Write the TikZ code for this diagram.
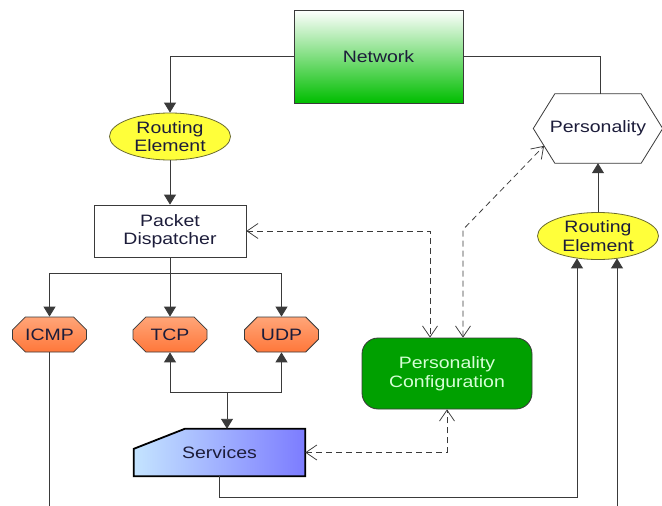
\documentclass[tikz,border=0pt]{standalone}
\usepackage{fontspec}
\setmainfont{Liberation Sans}[FakeStretch=1.18]
\usetikzlibrary{arrows.meta,shapes.geometric,shapes.misc,calc}
\definecolor{lin}{HTML}{3A3A3A}
\definecolor{txt}{HTML}{1C1C3A}
\definecolor{netgreen}{HTML}{00BE00}
\definecolor{yel}{HTML}{FFFF3A}
\definecolor{yelborder}{HTML}{6A6A30}
\definecolor{orangetop}{HTML}{FFA578}
\definecolor{orangebot}{HTML}{FF773A}
\definecolor{cfggreen}{HTML}{00A000}
\definecolor{cfgtext}{HTML}{D6FFD6}
\definecolor{svcleft}{HTML}{C4E4FF}
\definecolor{svcright}{HTML}{7C7CFF}
\begin{document}
\begin{tikzpicture}[x=1pt,y=-1pt,
  lbl/.style={font=\fontsize{16.5}{18.5}\selectfont, text=txt, align=center, inner sep=0pt},
  conn/.style={line width=0.9pt, draw=lin},
  arr/.style={conn, -{Triangle[length=10pt,width=12pt]}},
  darr/.style={line width=0.75pt, draw=lin, dash pattern=on 6pt off 4pt,
    {Straight Barb[length=11pt,width=15pt,line width=0.75pt]}-{Straight Barb[length=11pt,width=15pt,line width=0.75pt]}},
  routing/.style={ellipse, lbl, draw=yelborder, fill=yel, line width=0.8pt,
    minimum width=121pt, minimum height=47pt},
  proto/.style={chamfered rectangle, chamfered rectangle xsep=7pt, chamfered rectangle ysep=7pt,
    lbl, draw=lin, line width=0.8pt, top color=orangetop, bottom color=orangebot,
    minimum width=74pt, minimum height=35pt},
  plainbox/.style={rectangle, lbl, draw=lin, line width=0.8pt, fill=white},
  netbox/.style={rectangle, lbl, draw=lin, line width=0.8pt, top color=white, bottom color=netgreen,
    minimum width=169pt, minimum height=93pt},
  cfgbox/.style={rectangle, rounded corners=16pt, lbl, text=cfgtext, draw=lin, line width=0.8pt,
    fill=cfggreen, minimum width=170pt, minimum height=71pt},
  placeholder/.style={rectangle, lbl, draw=none}
]
\fill[white] (0,0) rectangle (662,506);
\useasboundingbox (0,0) rectangle (662,506);

% nodes
\node[netbox] (net) at (378.5,56.5) {Network};
\node[routing] (re1) at (170,136.5) {Routing\\Element};
\node[plainbox, minimum width=152pt, minimum height=52pt] (pd) at (170,231) {Packet\\Dispatcher};
\node[proto] (icmp) at (49.5,334.5) {ICMP};
\node[proto] (tcp) at (170,334.5) {TCP};
\node[proto] (udp) at (281.5,334.5) {UDP};
\node[cfgbox] (pc) at (447,373.5) {Personality\\Configuration};
\node[routing] (re2) at (598,236) {Routing\\Element};

% personality hexagon
\node[placeholder, minimum width=129pt, minimum height=69pt] (pers) at (598,128.5) {Personality};
\coordinate (persTL) at ($(pers.north west)+(21.5,0)$);
\coordinate (persTR) at ($(pers.north east)+(-21.5,0)$);
\coordinate (persBR) at ($(pers.south east)+(-21.5,0)$);
\coordinate (persBL) at ($(pers.south west)+(21.5,0)$);
\draw[draw=lin, line width=0.8pt] (pers.west) -- (persTL) -- (persTR) -- (pers.east) -- (persBR) -- (persBL) -- cycle;
\coordinate (persIn) at ($(pers.west)!0.5!(persBL)$);

% services shape
\node[placeholder, minimum width=171pt, minimum height=47pt] (serv) at (219.5,452.5) {};
\draw[draw=black, line width=1.8pt, left color=svcleft, right color=svcright]
  ($(serv.north west)+(51,0)$) -- (serv.north east) -- (serv.south east) -- (serv.south west)
  -- ($(serv.north west)+(0,20)$) -- cycle;
\node[lbl] at (serv.center) {Services};

% free ends
\coordinate (split) at (170,273);
\coordinate (join) at (227,392);
\coordinate (icmpEnd) at (49.5,506);
\coordinate (bend) at (577,497);
\coordinate (re2In) at (617,506);

% connectors
\draw[arr] (net.west) -| (re1.north);
\draw[arr] (re1.south) -- (pd.north);
\draw[conn] (pd.south) -- (split);
\draw[arr] (split) -| (icmp.north);
\draw[arr] (split) -- (tcp.north);
\draw[arr] (split) -| (udp.north);
\draw[arr] (join) -| (tcp.south);
\draw[arr] (join) -| (udp.south);
\draw[arr] (join) -- (join |- serv.north);
\draw[conn] (icmp.south) -- (icmpEnd);
\draw[arr, shorten >=-1.5pt] (serv.south) |- (bend) -- (bend |- re2.south);
\draw[arr, shorten >=-1.5pt] (re2In) -- (re2In |- re2.south);
\draw[arr] (re2.north) -- (pers.south);
\draw[conn] (net.east) -| ($(pers.north)+(2,0)$);

% dashed connectors
\draw[darr] (pd.east) -| ($(pc.north)+(-17,0)$);
\draw[darr] ($(pc.north)+(16,0)$) -- ++(0,-108) -- (persIn);
\draw[darr] (serv.east) -| (pc.south);
\end{tikzpicture}
\end{document}
